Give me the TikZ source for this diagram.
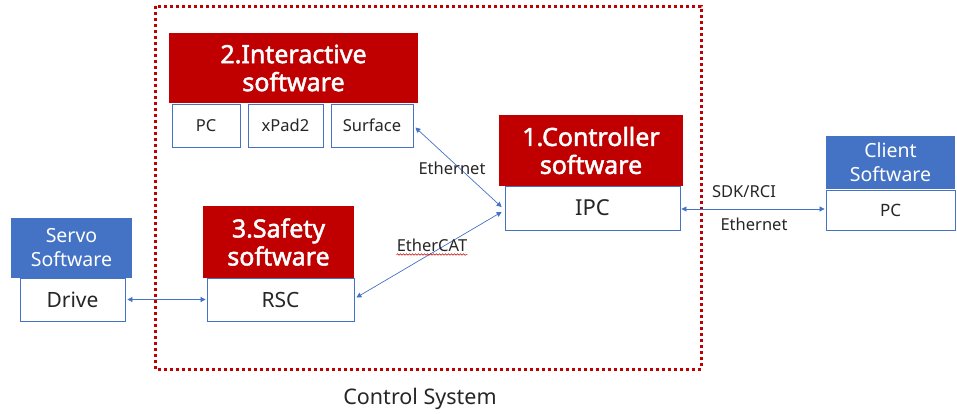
\documentclass[tikz,border=0pt]{standalone}
\usepackage{fontspec}
\setmainfont{Noto Sans}
\newfontfamily\hdrf[FakeBold=2]{Noto Sans}
\usetikzlibrary{arrows.meta,calc,decorations.pathmorphing}
\definecolor{redc}{HTML}{C00000}
\definecolor{bluec}{HTML}{4472C4}
\definecolor{txt}{HTML}{262626}
\begin{document}
\begin{tikzpicture}[x=1pt,y=-1pt,
  hdr/.style={fill=redc,text=white,font=\hdrf\fontsize{25}{28}\selectfont,align=center,inner sep=0pt},
  bhdr/.style={fill=bluec,text=white,font=\fontsize{19.5}{24}\selectfont,align=center,inner sep=0pt},
  box/.style={draw=bluec,line width=0.8pt,fill=white,inner sep=0pt,text=txt},
  lbl/.style={text=txt,inner sep=0pt},
  conn/.style={draw=bluec,line width=0.7pt,{Triangle[length=5pt,width=5pt]}-{Triangle[length=5pt,width=5pt]}}]
\useasboundingbox (0,0) rectangle (957,413);
% control system border
\draw[redc,line width=3pt,dash pattern=on 3pt off 3pt] (155,6) rectangle (701,369);
\node[lbl,font=\fontsize{21.5}{24}\selectfont] (cs) at (420,399) {Control System};
% interactive
\node[hdr,minimum width=249pt,minimum height=70pt] (ih) at (293.5,68) {2.Interactive\\software};
\node[box,minimum width=68pt,minimum height=43pt,font=\fontsize{16.5}{18}\selectfont] (pc) at (206,125.5) {PC};
\node[box,minimum width=75pt,minimum height=43pt,font=\fontsize{16.5}{18}\selectfont] (xpad) at (285.5,125.5) {xPad2};
\node[box,minimum width=82pt,minimum height=43pt,font=\fontsize{16.5}{18}\selectfont] (surf) at (372,125.5) {Surface};
% controller
\node[box,minimum width=175pt,minimum height=44pt,font=\fontsize{22}{24}\selectfont] (ipc) at (592.5,208) {IPC};
\node[hdr,minimum width=184pt,minimum height=71pt] (ch) at (591,150.5) {1.Controller\\software};
% safety
\node[box,minimum width=147pt,minimum height=43pt,font=\fontsize{21}{24}\selectfont] (rsc) at (280.5,299.5) {RSC};
\node[hdr,minimum width=151pt,minimum height=72pt] (sh) at (278.5,242) {3.Safety\\software};
% servo
\node[box,minimum width=105pt,minimum height=43pt,font=\fontsize{21}{24}\selectfont] (drv) at (72.5,299.5) {Drive};
\node[bhdr,minimum width=121pt,minimum height=60pt] (sv) at (71.5,248) {Servo\\Software};
% client
\node[box,minimum width=129pt,minimum height=40pt,font=\fontsize{17}{20}\selectfont] (cpc) at (890.5,210) {PC};
\node[bhdr,minimum width=129pt,minimum height=53pt] (cl) at (890.5,162) {Client\\Software};
% connectors
\draw[conn] ($(drv.east)+(2,0)$) -- ($(rsc.west)+(-1,0)$);
\draw[conn] ($(rsc.east)+(2,-2)$) -- ($(ipc.west)+(-3,4)$);
\draw[conn] ($(surf.east)+(2,2)$) -- ($(ipc.west)+(-3,-1)$);
\draw[conn] ($(ipc.east)+(1,1)$) -- ($(cpc.west)+(-1,-1)$);
% labels
\node[lbl,font=\fontsize{16.5}{18}\selectfont] (l1) at (452,168) {Ethernet};
\node[lbl,font=\fontsize{16.5}{18}\selectfont] (l2) at (432,245) {EtherCAT};
\draw[redc,line width=0.5pt,decorate,decoration={snake,amplitude=0.8pt,segment length=3pt}] ($(l2.south west)+(0,3)$) -- ($(l2.south east)+(0,3)$);
\node[lbl,font=\fontsize{16.5}{18}\selectfont] (l3) at (744,192) {SDK/RCI};
\node[lbl,font=\fontsize{16.5}{18}\selectfont] (l4) at (754,224) {Ethernet};
\end{tikzpicture}
\end{document}
